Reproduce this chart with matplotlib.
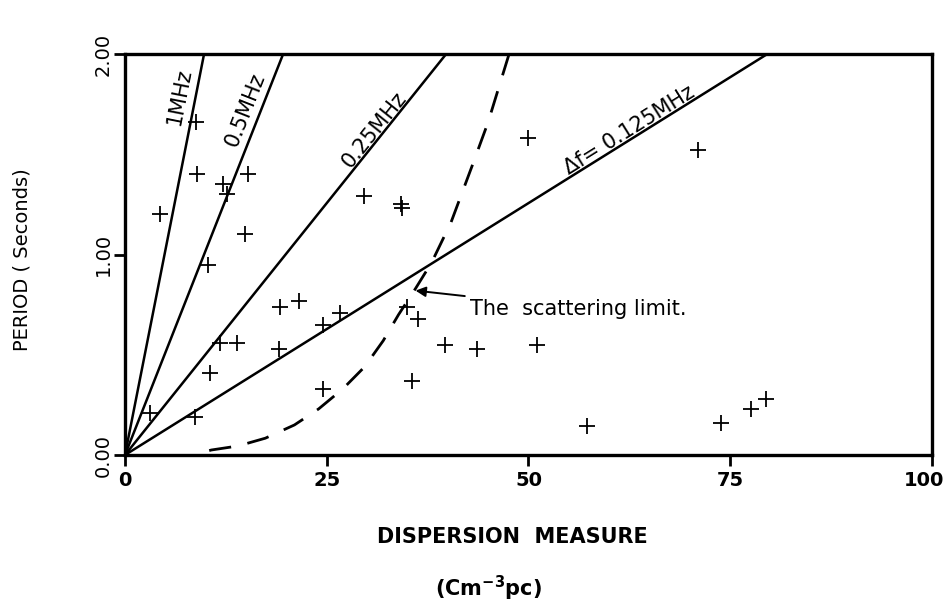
import numpy as np
import matplotlib
matplotlib.use("Agg")
import matplotlib.pyplot as plt
from matplotlib.transforms import ScaledTranslation

# pulsars: dispersion measure (cm^-3 pc) and period (s)
dm_points = [3.1, 4.4, 8.8, 8.9, 12.1, 12.6, 15.2, 14.9, 10.3, 11.8, 13.9, 10.5,
             8.7, 19.2, 21.6, 19.1, 24.5, 26.6, 24.5, 29.6, 34.2, 34.3, 50.0,
             71.0, 36.3, 35.6, 34.9, 39.7, 43.6, 51.1, 57.2, 73.9, 77.6, 79.5]
period_points = [0.21, 1.20, 1.66, 1.40, 1.35, 1.30, 1.40, 1.10, 0.95, 0.56, 0.56, 0.41,
                 0.19, 0.74, 0.77, 0.53, 0.65, 0.71, 0.33, 1.29, 1.25, 1.23, 1.58,
                 1.52, 0.68, 0.37, 0.74, 0.55, 0.53, 0.55, 0.145, 0.16, 0.23, 0.28]

# bandwidth lines: DM where each line reaches P = 2.00 s
bw_labels = ["1MHz", "0.5MHz", "0.25MHz", "Δf= 0.125MHz"]
bw_dm_top = [9.8, 19.6, 39.8, 79.6]

# scattering limit (dashed curve)
scat_dm = [8.5, 10.7, 14.0, 17.4, 21.0, 24.0, 27.0, 29.7, 32.0, 33.9, 36.0, 38.0, 40.4, 43.0, 45.0, 47.6]
scat_p = [0.0, 0.025, 0.045, 0.084, 0.15, 0.23, 0.33, 0.44, 0.57, 0.70, 0.83, 0.96, 1.16, 1.44, 1.66, 2.0]

fig = plt.figure(figsize=(9.49, 6.01), dpi=100)
ax = fig.add_axes([0.1317, 0.2429, 0.8503, 0.6672])
ax.set_xlim(0, 100)
ax.set_ylim(0, 2.0)

for dm in bw_dm_top:
    ax.plot([0, dm], [0, 2.0], color="black", lw=1.8, solid_capstyle="butt")

# drawn from the top down so the dash pattern meets the upper frame
ax.plot(scat_dm[::-1], scat_p[::-1], color="black", lw=2.0, dashes=(8, 6))
ax.plot(dm_points, period_points, linestyle="none", marker="+", color="black",
        markersize=11, markeredgewidth=1.3)

# labels along the lines
label_pos = [(6.8, 1.79), (14.9, 1.72), (30.9, 1.62), (62.5, 1.62)]
for dm, lab, (lx, ly) in zip(bw_dm_top, bw_labels, label_pos):
    p0 = ax.transData.transform((0, 0))
    p1 = ax.transData.transform((dm, 2.0))
    ang = np.degrees(np.arctan2(p1[1] - p0[1], p1[0] - p0[0]))
    ax.text(lx, ly, lab, rotation=ang, rotation_mode="anchor", ha="center", va="center",
            fontsize=15)

ax.annotate("The  scattering limit.", xy=(36.0, 0.82), xytext=(42.8, 0.73),
            ha="left", va="center", fontsize=15,
            arrowprops=dict(arrowstyle="-|>", color="black", lw=1.4, shrinkA=2, shrinkB=0))

for s in ax.spines.values():
    s.set_linewidth(2.4)

ax.set_xticks([0, 25, 50, 75, 100])
ax.set_xticklabels(["0", "25", "50", "75", "100"], fontsize=14, fontweight="bold")
ax.set_yticks([0, 1, 2])
ax.set_yticklabels(["0.00", "1.00", "2.00"], fontsize=14, rotation=90, va="center")
ax.tick_params(direction="out", length=8, width=2)
ax.tick_params(axis="y", pad=1)
last = ax.get_xticklabels()[-1]
last.set_transform(last.get_transform() + ScaledTranslation(-8 / 100, 0, fig.dpi_scale_trans))

fig.text(512 / 949, 1 - 537 / 601, "DISPERSION  MEASURE", ha="center", va="center",
         fontsize=15, fontweight="bold")
fig.text(488 / 949, 1 - 588 / 601, "(Cm$^{\\mathbf{-3}}$pc)", ha="center", va="center",
         fontsize=15, fontweight="bold")
fig.text(22 / 949, 1 - 260 / 601, "PERIOD ( Seconds)", ha="center", va="center",
         rotation=90, fontsize=14)

fig.savefig("out.png", dpi=100)
